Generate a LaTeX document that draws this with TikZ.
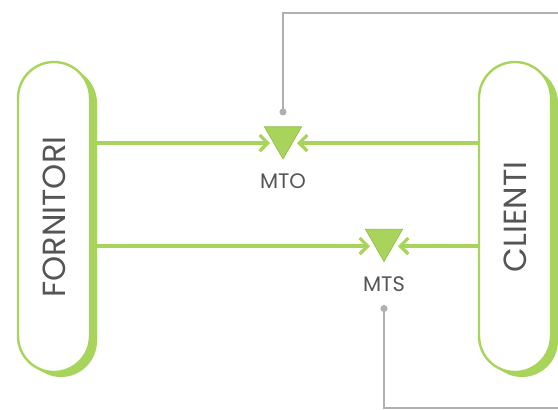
\documentclass[tikz,border=0pt]{standalone}
\usepackage{fontspec}
\setmainfont{Poppins}
\usetikzlibrary{arrows.meta}
\usetikzlibrary{shapes.geometric}
\usetikzlibrary{shadows}

\definecolor{leaf}{HTML}{A8D45C}
\definecolor{leafdark}{HTML}{8DBB45}
\definecolor{ink}{HTML}{555555}
\definecolor{wire}{HTML}{B0B0B0}

\begin{document}
\begin{tikzpicture}[x=1pt, y=-1pt,
  pill/.style={draw=leaf, line width=2.4pt, fill=white, rounded corners=36pt,
    minimum width=72pt, minimum height=310pt, inner sep=0pt,
    text=ink, font=\fontsize{32}{36}\selectfont,
    drop shadow={shadow xshift=7pt, shadow yshift=-5pt, fill=leaf, opacity=1}},
  tri/.style={regular polygon, regular polygon sides=3, shape border rotate=180,
    fill=leaf, draw=leafdark, line width=0.6pt, minimum size=43pt, inner sep=0pt},
  tag/.style={text=ink, font=\fontsize{21}{24}\selectfont},
  flow/.style={draw=leaf, line width=3.2pt, -{Straight Barb[length=8pt,width=16pt]}},
  feed/.style={draw=wire, line width=1.2pt, {Circle[length=7pt]}-}]
  \useasboundingbox (0,0) rectangle (558,410);

  \node[pill] (forn) at (54,217) {\rotatebox{90}{FORNITORI}};
  \node[pill] (cli) at (515,217) {\rotatebox{90}{CLIENTI}};

  \node[tri] (mto) at (283,137.5) {};
  \node[tag] (mtol) at (283,181) {MTO};
  \node[tri] (mts) at (384,240) {};
  \node[tag] (mtsl) at (384,284) {MTS};

  \coordinate (mtoL) at (270,143);
  \coordinate (mtoR) at (297,143);
  \coordinate (mtsL) at (370,246);
  \coordinate (mtsR) at (398,246);
  \draw[flow] (forn.east |- mtoL) -- (mtoL);
  \draw[flow] (cli.west |- mtoR) -- (mtoR);
  \draw[flow] (forn.east |- mtsL) -- (mtsL);
  \draw[flow] (cli.west |- mtsR) -- (mtsR);

  \coordinate (topend) at (560,13);
  \coordinate (botend) at (560,408);
  \draw[feed] ([yshift=11pt]mto.north) |- (topend);
  \draw[feed] ([yshift=-10pt]mtsl.south) |- (botend);
\end{tikzpicture}
\end{document}
